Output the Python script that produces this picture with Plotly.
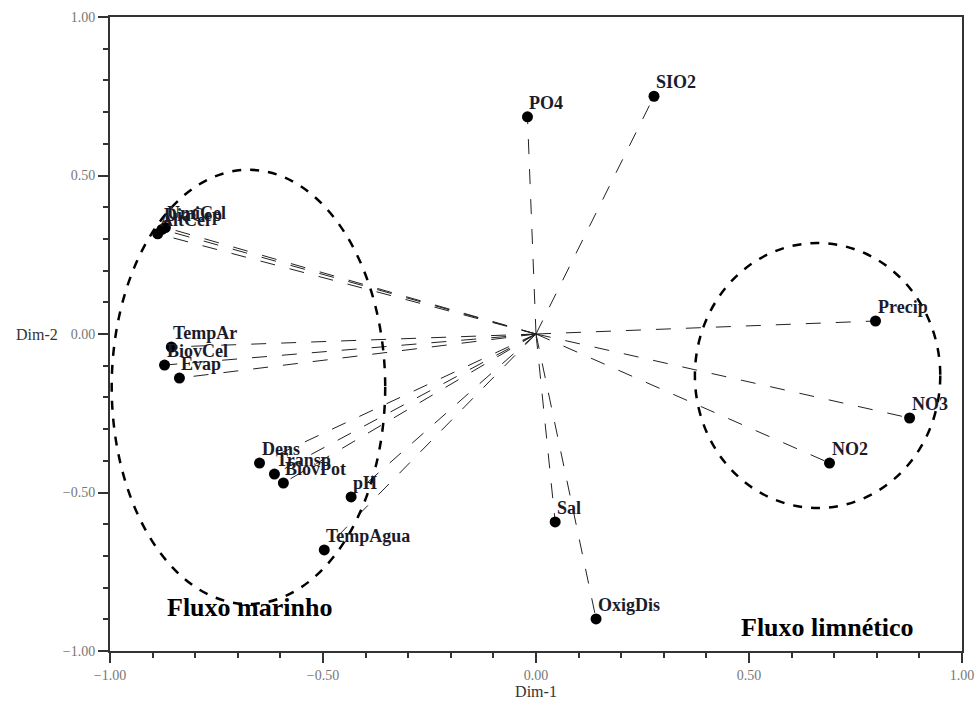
import plotly.graph_objects as go

# variable loadings on the first two dimensions
variables = ["PO4", "SIO2", "Precip", "NO3", "NO2", "Sal", "OxigDis",
             "TempAgua", "pH", "BiovPot", "Transp", "Dens",
             "Evap", "BiovCel", "TempAr",
             "AltCel", "DiaCep", "UmiCel"]
dim1 = [-0.02, 0.277, 0.797, 0.877, 0.689, 0.045, 0.141,
        -0.497, -0.434, -0.593, -0.614, -0.649,
        -0.837, -0.872, -0.856,
        -0.888, -0.878, -0.870]
dim2 = [0.685, 0.750, 0.041, -0.265, -0.407, -0.593, -0.899,
        -0.681, -0.514, -0.470, -0.442, -0.407,
        -0.139, -0.098, -0.041,
        0.316, 0.330, 0.336]

fig = go.Figure()

# dashed vectors from the origin
for x, y in zip(dim1, dim2):
    fig.add_trace(go.Scatter(
        x=[0, x], y=[0, y], mode="lines",
        line=dict(color="#222", width=1, dash="longdash"),
        hoverinfo="skip", showlegend=False))

fig.add_trace(go.Scatter(
    x=dim1, y=dim2, mode="markers", text=variables,
    marker=dict(color="black", size=11),
    showlegend=False))

# labels sit just above-right of each point
for name, x, y in zip(variables, dim1, dim2):
    fig.add_annotation(x=x, y=y, text="<b>%s</b>" % name, showarrow=False,
                       xanchor="left", yanchor="bottom", xshift=0, yshift=2,
                       font=dict(family="Liberation Serif", size=18, color="#1b1b2a"))

# group ellipses
fig.add_shape(type="circle", xref="x", yref="y",
              x0=-0.996, x1=-0.354, y0=-0.852, y1=0.518,
              line=dict(color="black", width=2.5, dash="dash"))
fig.add_shape(type="circle", xref="x", yref="y",
              x0=0.373, x1=0.949, y0=-0.549, y1=0.287,
              line=dict(color="black", width=2.5, dash="dash"))

fig.add_annotation(x=-0.673, y=-0.864, xref="x", yref="y", text="<b>Fluxo marinho</b>",
                   showarrow=False, yanchor="middle",
                   font=dict(family="Liberation Serif", size=26, color="black"))
fig.add_annotation(x=0.685, y=-0.925, xref="x", yref="y", text="<b>Fluxo limnético</b>",
                   showarrow=False, yanchor="middle",
                   font=dict(family="Liberation Serif", size=26, color="black"))

fig.add_annotation(x=-0.086, y=0.5, xref="paper", yref="paper", text="Dim-2",
                   showarrow=False, xanchor="center",
                   font=dict(family="Liberation Serif", size=16, color="#333"))

axis_common = dict(
    range=[-1, 1], tickvals=[-1, -0.5, 0, 0.5, 1], tickformat=".2f",
    ticks="outside", ticklen=10, tickwidth=2, tickcolor="#333",
    minor=dict(dtick=0.1, ticks="outside", ticklen=5, tickwidth=2, tickcolor="#333"),
    showline=True, linewidth=2, linecolor="#333", mirror=True,
    showgrid=False, zeroline=False, automargin=False,
    tickfont=dict(family="Liberation Serif", size=14, color="#777"),
)

fig.update_layout(
    width=975, height=704,
    margin=dict(l=110, r=13, t=17, b=53),
    plot_bgcolor="white", paper_bgcolor="white",
    xaxis=dict(**axis_common,
               title=dict(text="Dim-1", standoff=4,
                          font=dict(family="Liberation Serif", size=16, color="#333"))),
    yaxis=dict(**axis_common),
)

fig.write_html("out.html", config={"displayModeBar": False},
               post_script="document.body.style.margin='0';")
